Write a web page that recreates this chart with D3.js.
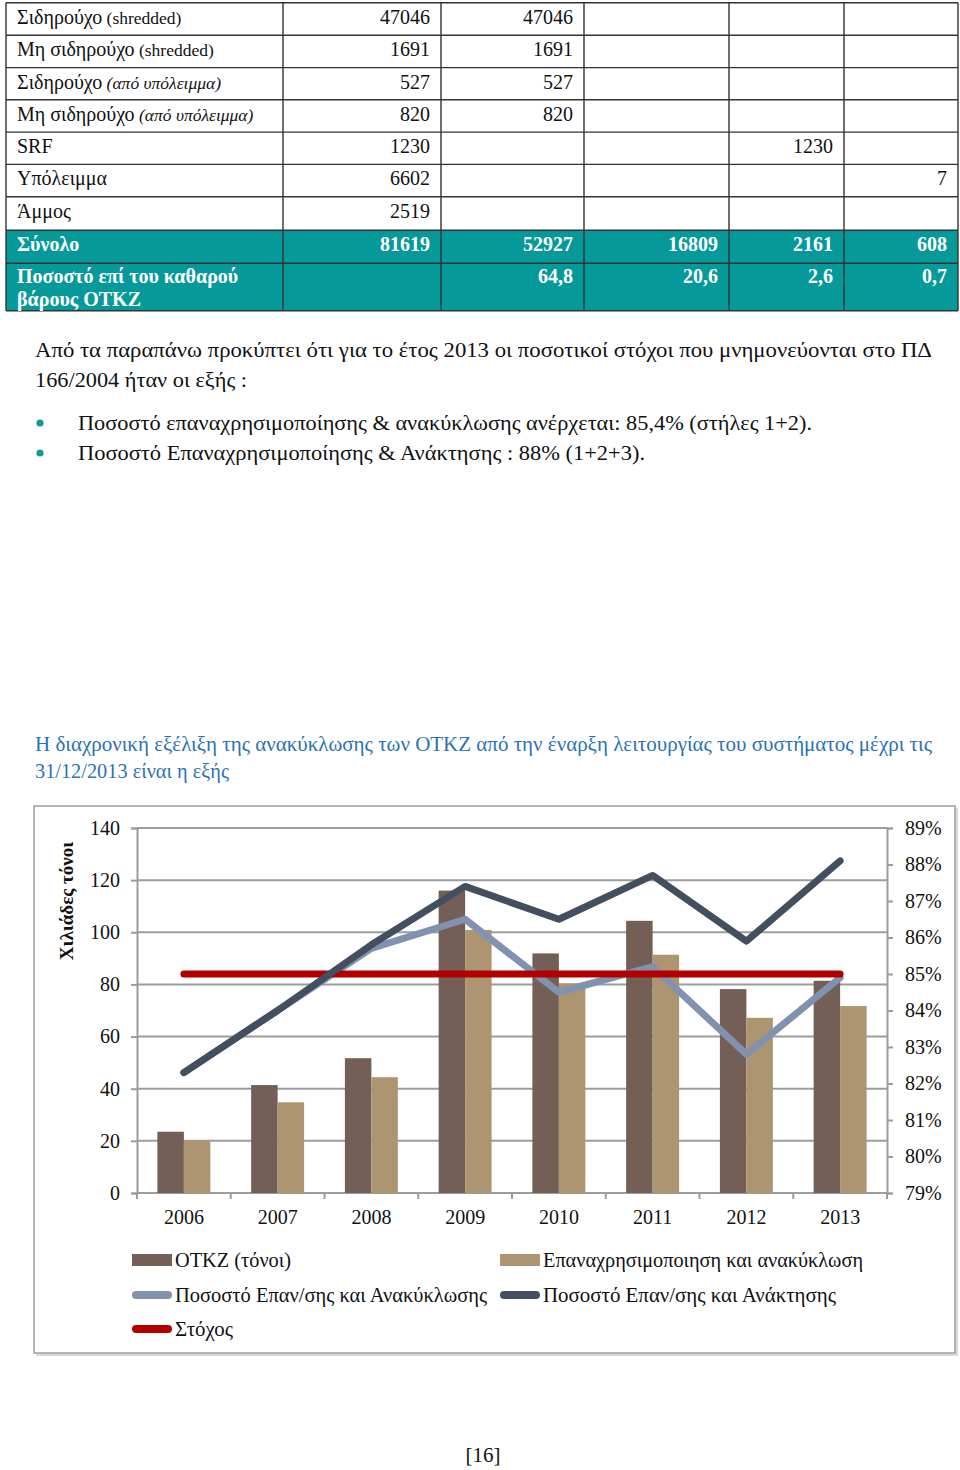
<!DOCTYPE html>
<html><head><meta charset="utf-8">
<script src="https://cdn.jsdelivr.net/npm/d3@7"></script>
<style>
html,body{margin:0;padding:0;background:#fff;}
svg{display:block;font-family:"Liberation Serif","Times New Roman",serif;}
</style></head>
<body>
<svg id="c" width="960" height="1470"></svg>
<script>
// ---------- table data ----------
const tableLabels = [
  ["Σιδηρούχο", " (shredded)", "n"],
  ["Μη σιδηρούχο", " (shredded)", "n"],
  ["Σιδηρούχο", " (από υπόλειμμα)", "i"],
  ["Μη σιδηρούχο", " (από υπόλειμμα)", "i"],
  ["SRF", "", "n"],
  ["Υπόλειμμα", "", "n"],
  ["Άμμος", "", "n"]
];
const tableValues = [
  ["47046", "47046", "", "", ""],
  ["1691", "1691", "", "", ""],
  ["527", "527", "", "", ""],
  ["820", "820", "", "", ""],
  ["1230", "", "", "1230", ""],
  ["6602", "", "", "", "7"],
  ["2519", "", "", "", ""]
];
const totalLabel = "Σύνολο";
const totalValues = ["81619", "52927", "16809", "2161", "608"];
const pctLabel = ["Ποσοστό επί του καθαρού", "βάρους ΟΤΚΖ"];
const pctValues = ["", "64,8", "20,6", "2,6", "0,7"];

// ---------- text ----------
const paraLines = ["Από τα παραπάνω προκύπτει ότι για το έτος 2013 οι ποσοτικοί στόχοι που μνημονεύονται στο ΠΔ",
                   "166/2004 ήταν οι εξής :"];
const bulletLines = ["Ποσοστό επαναχρησιμοποίησης & ανακύκλωσης ανέρχεται: 85,4% (στήλες 1+2).",
                     "Ποσοστό Επαναχρησιμοποίησης & Ανάκτησης : 88% (1+2+3)."];
const titleLines = ["Η διαχρονική εξέλιξη της ανακύκλωσης των ΟΤΚΖ από την έναρξη λειτουργίας του συστήματος μέχρι τις",
                    "31/12/2013 είναι η εξής"];

// ---------- chart data ----------
const years = ["2006", "2007", "2008", "2009", "2010", "2011", "2012", "2013"];
const otkz = [23.5, 41.4, 51.7, 116.0, 91.9, 104.4, 78.2, 81.4];
const recycled = [20.1, 34.8, 44.4, 100.9, 80.4, 91.4, 67.2, 71.7];
const rateRecycling = [0.823, 0.840, 0.857, 0.865, 0.845, 0.852, 0.828, 0.849];
const rateRecovery = [0.823, 0.840, 0.858, 0.874, 0.865, 0.877, 0.859, 0.881];
const target = [0.85, 0.85, 0.85, 0.85, 0.85, 0.85, 0.85, 0.85];
const leftTicks = [0, 20, 40, 60, 80, 100, 120, 140];
const rightTicks = [0.79, 0.80, 0.81, 0.82, 0.83, 0.84, 0.85, 0.86, 0.87, 0.88, 0.89];
const yTitle = "Χιλιάδες τόνοι";
const legendNames = ["ΟΤΚΖ (τόνοι)", "Επαναχρησιμοποιηση και ανακύκλωση",
                     "Ποσοστό Επαν/σης και Ανακύκλωσης", "Ποσοστό Επαν/σης και  Ανάκτησης", "Στόχος"];
const pageNum = "[16]";

const svg = d3.select("#c");
svg.append("rect").attr("width", 960).attr("height", 1470).attr("fill", "#fff");

// ---------- table ----------
const teal = "#06999a";
const colX = [6, 283, 441, 584, 729, 844, 958];
const rowY = [2.7, 35.2, 67.6, 99.8, 132.1, 164.4, 196.7, 230.2, 263.3, 310.7];
const tbl = svg.append("g");
tbl.append("rect").attr("x", colX[0]).attr("y", rowY[7]).attr("width", colX[6] - colX[0])
  .attr("height", rowY[9] - rowY[7]).attr("fill", teal);
rowY.forEach(y => tbl.append("line").attr("x1", colX[0]).attr("x2", colX[6]).attr("y1", y).attr("y2", y)
  .attr("stroke", "#333").attr("stroke-width", 1.4));
colX.forEach(x => tbl.append("line").attr("x1", x).attr("x2", x).attr("y1", rowY[0]).attr("y2", rowY[9])
  .attr("stroke", "#333").attr("stroke-width", 1.4));
tableLabels.forEach((lab, i) => {
  const t = tbl.append("text").attr("x", 17).attr("y", rowY[i] + 21).attr("font-size", 20).attr("fill", "#111");
  t.append("tspan").text(lab[0]);
  if (lab[1]) t.append("tspan").text(lab[1]).attr("font-size", 17.5).attr("font-style", lab[2] === "i" ? "italic" : "normal");
  tableValues[i].forEach((v, j) => {
    if (!v) return;
    tbl.append("text").attr("x", colX[j + 2] - 11).attr("y", rowY[i] + 21).attr("text-anchor", "end")
      .attr("font-size", 20).attr("fill", "#111").text(v);
  });
});
tbl.append("text").attr("x", 17).attr("y", rowY[7] + 21).attr("font-size", 20).attr("font-weight", "bold")
  .attr("fill", "#fff").text(totalLabel);
totalValues.forEach((v, j) => tbl.append("text").attr("x", colX[j + 2] - 11).attr("y", rowY[7] + 21)
  .attr("text-anchor", "end").attr("font-size", 20).attr("font-weight", "bold").attr("fill", "#fff").text(v));
pctLabel.forEach((l, k) => tbl.append("text").attr("x", 17).attr("y", rowY[8] + 20 + k * 23)
  .attr("font-size", 20).attr("font-weight", "bold").attr("fill", "#fff").text(l));
pctValues.forEach((v, j) => { if (v) tbl.append("text").attr("x", colX[j + 2] - 11).attr("y", rowY[8] + 20)
  .attr("text-anchor", "end").attr("font-size", 20).attr("font-weight", "bold").attr("fill", "#fff").text(v); });

// ---------- paragraph ----------
const para = svg.append("g").attr("font-size", 21).attr("fill", "#111");
para.append("text").attr("x", 35).attr("y", 357).attr("textLength", 897).attr("lengthAdjust", "spacingAndGlyphs").text(paraLines[0]);
para.append("text").attr("x", 35).attr("y", 387).attr("textLength", 212).attr("lengthAdjust", "spacingAndGlyphs").text(paraLines[1]);
[[430, 734], [460, 567]].forEach((d, i) => {
  para.append("circle").attr("cx", 40).attr("cy", d[0] - 7).attr("r", 3.6).attr("fill", "#1a9696");
  para.append("text").attr("x", 78).attr("y", d[0]).attr("textLength", d[1]).attr("lengthAdjust", "spacingAndGlyphs").text(bulletLines[i]);
});
const ttl = svg.append("g").attr("font-size", 21).attr("fill", "#2a73b6");
ttl.append("text").attr("x", 35).attr("y", 751).attr("textLength", 897).attr("lengthAdjust", "spacingAndGlyphs").text(titleLines[0]);
ttl.append("text").attr("x", 35).attr("y", 778).attr("textLength", 194).attr("lengthAdjust", "spacingAndGlyphs").text(titleLines[1]);

// ---------- chart frame ----------
svg.append("rect").attr("x", 36).attr("y", 808).attr("width", 922).attr("height", 548).attr("fill", "#d9d9d9");
svg.append("rect").attr("x", 34).attr("y", 806).attr("width", 921).attr("height", 547)
  .attr("fill", "#fff").attr("stroke", "#a6a6a6").attr("stroke-width", 1.6);

// ---------- scales ----------
const x = d3.scaleBand().domain(years).range([137, 887]).paddingInner(0).paddingOuter(0);
const xs = d3.scaleBand().domain(["otkz", "rec"]).range([0, x.bandwidth()]).paddingInner(0).paddingOuter(0.77);
const y = d3.scaleLinear().domain([0, 140]).range([1193, 828]);
const y2 = d3.scaleLinear().domain([0.79, 0.89]).range([1193, 828]);
const cx = d => x(d) + x.bandwidth() / 2;

const grid = "#9c9c9c";
svg.append("g").selectAll("line").data(leftTicks.slice(1)).join("line")
  .attr("x1", 137).attr("x2", 887).attr("y1", d => y(d)).attr("y2", d => y(d))
  .attr("stroke", grid).attr("stroke-width", 2);

const axL = svg.append("g").attr("transform", "translate(137,0)")
  .call(d3.axisLeft(y).tickValues(leftTicks).tickSize(6).tickPadding(11));
const axR = svg.append("g").attr("transform", "translate(887,0)")
  .call(d3.axisRight(y2).tickValues(rightTicks).tickFormat(d3.format(".0%")).tickSize(6).tickPadding(12));
const axB = svg.append("g").attr("transform", "translate(0,1193)")
  .call(d3.axisBottom(x).tickSize(0).tickPadding(17));
svg.append("g").selectAll("line").data(years.map(d => x(d)).concat([887])).join("line")
  .attr("x1", d => d).attr("x2", d => d).attr("y1", 1193).attr("y2", 1199).attr("stroke", grid).attr("stroke-width", 2);
[axL, axR, axB].forEach(a => {
  a.selectAll("path,line").attr("stroke", grid).attr("stroke-width", 2);
  a.selectAll("text").attr("font-family", "Liberation Serif").attr("font-size", 20).attr("fill", "#111");
});
axB.select(".domain").attr("d", "M137,0H887");

svg.append("text").attr("transform", "translate(73,901) rotate(-90)").attr("text-anchor", "middle")
  .attr("font-size", 19).attr("font-weight", "bold").attr("fill", "#111").text(yTitle);

// bars
const bars = svg.append("g");
bars.selectAll(".b1").data(years).join("rect").attr("class", "b1")
  .attr("x", d => x(d) + xs("otkz")).attr("width", xs.bandwidth())
  .attr("y", (d, i) => y(otkz[i])).attr("height", (d, i) => y(0) - y(otkz[i])).attr("fill", "#735f55");
bars.selectAll(".b2").data(years).join("rect").attr("class", "b2")
  .attr("x", d => x(d) + xs("rec")).attr("width", xs.bandwidth())
  .attr("y", (d, i) => y(recycled[i])).attr("height", (d, i) => y(0) - y(recycled[i])).attr("fill", "#ad9571");

// lines
const line = arr => d3.line().x((d, i) => cx(years[i])).y(d => y2(d))(arr);
const drawLine = (arr, col) => svg.append("path").attr("d", line(arr)).attr("fill", "none")
  .attr("stroke", col).attr("stroke-width", 7).attr("stroke-linejoin", "round").attr("stroke-linecap", "round");
drawLine(rateRecycling, "#8192b1");
drawLine(target, "#b20000");
drawLine(rateRecovery, "#434f5f");

// legend
const leg = svg.append("g").attr("font-size", 21).attr("fill", "#111");
const legItems = [
  {n: 0, x: 132, y: 1260, type: "rect", c: "#735f55", w: 116},
  {n: 1, x: 500, y: 1260, type: "rect", c: "#ad9571", w: 320},
  {n: 2, x: 132, y: 1295, type: "line", c: "#8192b1", w: 312},
  {n: 3, x: 500, y: 1295, type: "line", c: "#434f5f", w: 293},
  {n: 4, x: 132, y: 1329, type: "line", c: "#b20000", w: 58}
];
legItems.forEach(it => {
  if (it.type === "rect") leg.append("rect").attr("x", it.x).attr("y", it.y - 6).attr("width", 40).attr("height", 12).attr("fill", it.c);
  else leg.append("line").attr("x1", it.x + 4).attr("x2", it.x + 36).attr("y1", it.y).attr("y2", it.y)
    .attr("stroke", it.c).attr("stroke-width", 8).attr("stroke-linecap", "round");
  leg.append("text").attr("x", it.x + 43).attr("y", it.y + 7).attr("textLength", it.w)
    .attr("lengthAdjust", "spacingAndGlyphs").text(legendNames[it.n]);
});

svg.append("text").attr("x", 483).attr("y", 1462).attr("text-anchor", "middle").attr("font-size", 21)
  .attr("fill", "#111").text(pageNum);
</script>
</body></html>
